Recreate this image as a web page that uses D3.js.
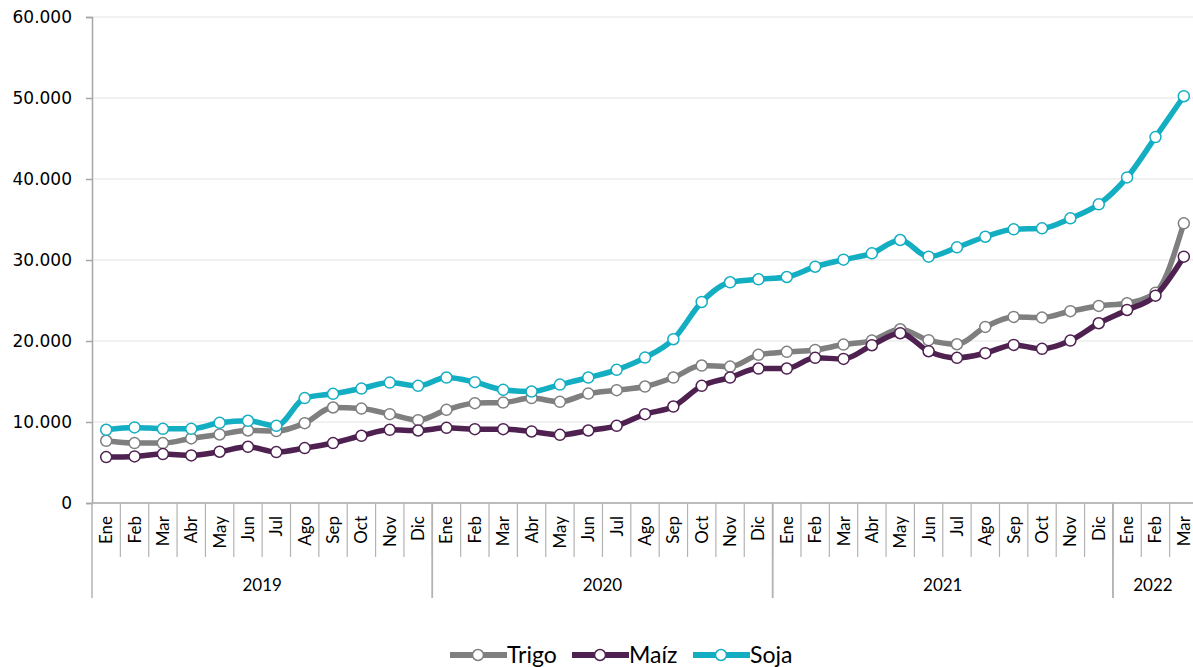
<!DOCTYPE html>
<html>
<head>
<meta charset="utf-8">
<script src="https://cdn.jsdelivr.net/npm/d3@7"></script>
<style>
  body { margin: 0; background: #fff; }
  svg { display: block; }
</style>
</head>
<body>
<svg id="chart"></svg>
<script>
// month / year labels
var monthNames = ["Ene", "Feb", "Mar", "Abr", "May", "Jun", "Jul", "Ago", "Sep", "Oct", "Nov", "Dic"]
var yearNames = ["2019", "2020", "2021", "2022"]
var yearMonths = [12, 12, 12, 3]

// series values
var trigo = [7680, 7400, 7400, 7970, 8460, 8950, 8880, 9860, 11790, 11660, 10970, 10230,
    11500, 12330, 12400, 12950, 12490, 13510, 13930, 14380, 15490, 16970, 16840, 18290,
    18660, 18900, 19560, 20050, 21450, 20100, 19600, 21740, 22970, 22890, 23680, 24330,
    24660, 25970, 34530]
var maiz = [5670, 5750, 6040, 5870, 6330, 6940, 6290, 6780, 7400, 8300, 9040, 8950,
    9280, 9120, 9120, 8830, 8420, 8950, 9530, 10970, 11910, 14460, 15490, 16600,
    16600, 17920, 17790, 19480, 20960, 18740, 17920, 18500, 19520, 19030, 20050, 22190,
    23830, 25600, 30410]
var soja = [9040, 9330, 9160, 9160, 9900, 10150, 9530, 12950, 13480, 14130, 14870, 14460,
    15490, 14920, 13970, 13760, 14620, 15490, 16440, 17950, 20220, 24820, 27250, 27620,
    27900, 29170, 30040, 30820, 32470, 30410, 31560, 32870, 33790, 33910, 35140, 36870,
    40200, 45170, 50220]
var yTicks = [0, 10000, 20000, 30000, 40000, 50000, 60000]

var seriesNames = ["Trigo", "Maíz", "Soja"]
var seriesColors = ["#7f7f7f", "#4e2150", "#13aec2"]
var seriesValues = [trigo, maiz, soja]

var dimensions = {
    width: 1193,
    height: 667,
    margin: { top: 17, bottom: 164, left: 92, right: -5 }
}

// build categories
var categories = []
yearNames.forEach(function (y, yi) {
    for (var m = 0; m < yearMonths[yi]; m++) {
        categories.push({ key: y + "-" + monthNames[m], month: monthNames[m], year: y })
    }
})

var svg = d3.select("#chart")
    .attr("width", dimensions.width)
    .attr("height", dimensions.height)

var xScale = d3.scaleBand()
    .domain(categories.map(d => d.key))
    .range([dimensions.margin.left, dimensions.width - dimensions.margin.right])

var yScale = d3.scaleLinear()
    .domain([0, 60000])
    .range([dimensions.height - dimensions.margin.bottom, dimensions.margin.top])

var y0 = yScale(0)
var fmt = d3.formatLocale({ decimal: ",", thousands: ".", grouping: [3], currency: ["", ""] }).format(",.0f")

// gridlines
svg.append("g")
    .selectAll("line")
    .data(yTicks.slice(1))
    .enter()
    .append("line")
    .attr("x1", dimensions.margin.left)
    .attr("x2", dimensions.width)
    .attr("y1", d => yScale(d))
    .attr("y2", d => yScale(d))
    .attr("stroke", "#ececec")
    .attr("stroke-width", 1.5)

// y axis
var yAxisGen = d3.axisLeft(yScale).tickValues(yTicks).tickFormat(fmt).tickSize(6).tickPadding(14)
var yAxis = svg.append("g")
    .attr("transform", `translate(${dimensions.margin.left},0)`)
    .call(yAxisGen)
yAxis.select(".domain").attr("stroke", "#a6a6a6").attr("stroke-width", 1.5)
yAxis.selectAll(".tick line").attr("stroke", "#a6a6a6").attr("stroke-width", 1.5)
yAxis.selectAll(".tick text")
    .attr("fill", "#000")
    .style("font-family", "DejaVu Sans, sans-serif")
    .style("font-size", "17px")

// x axis baseline
svg.append("line")
    .attr("x1", dimensions.margin.left)
    .attr("x2", dimensions.width)
    .attr("y1", y0)
    .attr("y2", y0)
    .attr("stroke", "#a6a6a6")
    .attr("stroke-width", 1.5)

// month separators
var bw = xScale.bandwidth()
svg.append("g")
    .selectAll("line")
    .data(categories)
    .enter()
    .append("line")
    .attr("x1", d => xScale(d.key) + bw)
    .attr("x2", d => xScale(d.key) + bw)
    .attr("y1", y0)
    .attr("y2", y0 + 54)
    .attr("stroke", "#b3b3b3")
    .attr("stroke-width", 1.2)

// month labels
svg.append("g")
    .selectAll("text")
    .data(categories)
    .enter()
    .append("text")
    .attr("transform", d => `translate(${xScale(d.key) + bw / 2 + 6},${y0 + 13}) rotate(-90)`)
    .attr("text-anchor", "end")
    .style("font-family", "Lato, sans-serif")
    .style("font-size", "17px")
    .attr("fill", "#000")
    .text(d => d.month)

// year separators and labels
var yearStart = 0
yearNames.forEach(function (y, yi) {
    var first = categories[yearStart].key
    var last = categories[yearStart + yearMonths[yi] - 1].key
    var xa = xScale(first)
    var xb = xScale(last) + bw
    svg.append("line")
        .attr("x1", xa).attr("x2", xa)
        .attr("y1", y0).attr("y2", y0 + 95)
        .attr("stroke", "#b3b3b3").attr("stroke-width", 1.5)
    svg.append("line")
        .attr("x1", xb).attr("x2", xb)
        .attr("y1", y0).attr("y2", y0 + 95)
        .attr("stroke", "#b3b3b3").attr("stroke-width", 1.5)
    svg.append("text")
        .attr("x", (xa + Math.min(xb, dimensions.width)) / 2)
        .attr("y", y0 + 88)
        .attr("text-anchor", "middle")
        .style("font-family", "Lato, sans-serif")
        .style("font-size", "17px")
        .text(y)
    yearStart += yearMonths[yi]
})

// lines + markers
var lineGen = d3.line()
    .x((d, i) => xScale(categories[i].key) + bw / 2)
    .y(d => yScale(d))
    .curve(d3.curveMonotoneX)

seriesValues.forEach(function (vals, si) {
    var g = svg.append("g")
    g.append("path")
        .datum(vals)
        .attr("d", lineGen)
        .attr("fill", "none")
        .attr("stroke", seriesColors[si])
        .attr("stroke-width", 5.5)
        .attr("stroke-linejoin", "round")
    g.selectAll("circle")
        .data(vals)
        .enter()
        .append("circle")
        .attr("cx", (d, i) => xScale(categories[i].key) + bw / 2)
        .attr("cy", d => yScale(d))
        .attr("r", 5.5)
        .attr("fill", "#fff")
        .attr("stroke", seriesColors[si])
        .attr("stroke-width", 1.5)
})

// legend
var legendX = [450, 572, 693]
var legend = svg.append("g")
seriesNames.forEach(function (name, si) {
    var lx = legendX[si]
    legend.append("line")
        .attr("x1", lx).attr("x2", lx + 57)
        .attr("y1", 655).attr("y2", 655)
        .attr("stroke", seriesColors[si])
        .attr("stroke-width", 6)
    legend.append("circle")
        .attr("cx", lx + 28).attr("cy", 655).attr("r", 5.5)
        .attr("fill", "#fff")
        .attr("stroke", seriesColors[si])
        .attr("stroke-width", 1.5)
    legend.append("text")
        .attr("x", lx + 57)
        .attr("y", 663)
        .style("font-family", "Lato, sans-serif")
        .style("font-size", "23px")
        .text(name)
})
</script>
</body>
</html>
